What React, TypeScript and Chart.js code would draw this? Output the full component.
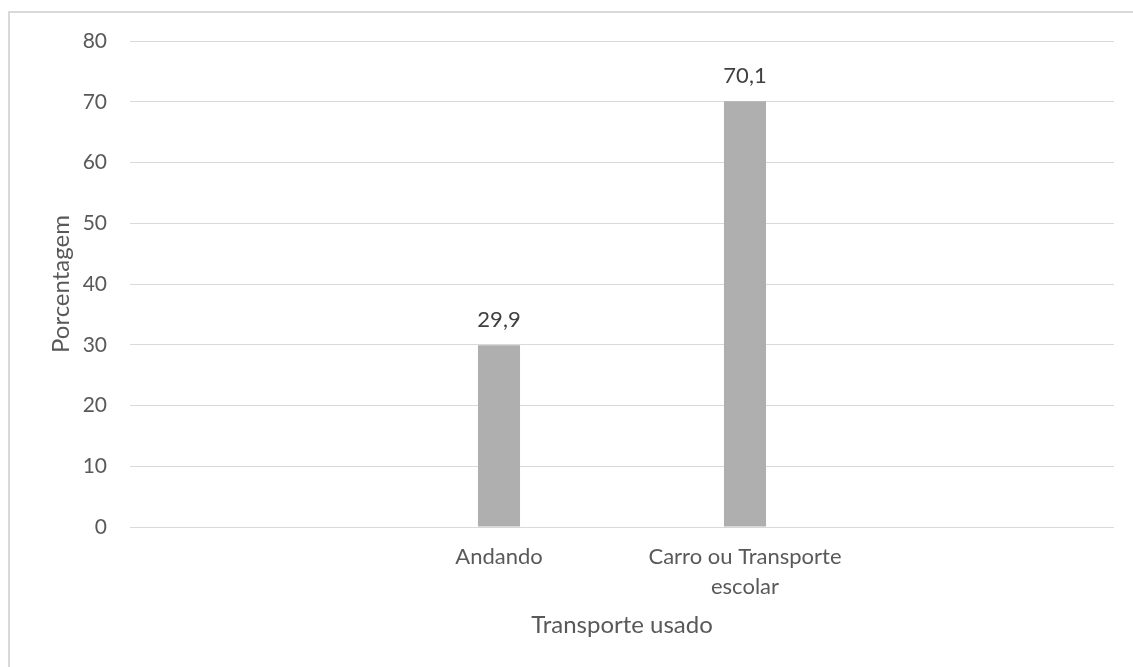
import React, { useEffect, useRef } from "react";
import { Chart, registerables } from "chart.js";

Chart.register(...registerables);

const categories: (string | string[])[] = ["", "Andando", ["Carro ou Transporte", "escolar"], ""];
const values: (number | null)[] = [null, 29.9, 70.1, null];
const yTicks = { min: 0, max: 80, step: 10 };
const xTitle = "Transporte usado";
const yTitle = "Porcentagem";

const FONT = "Lato, 'Open Sans', sans-serif";

const valueLabels = {
  id: "valueLabels",
  afterDatasetsDraw(chart: any) {
    const ctx = chart.ctx;
    const meta = chart.getDatasetMeta(0);
    ctx.save();
    ctx.font = `22px ${FONT}`;
    ctx.fillStyle = "#404040";
    ctx.textAlign = "center";
    ctx.textBaseline = "middle";
    meta.data.forEach((el: any, i: number) => {
      const v = values[i];
      if (v == null) return;
      ctx.fillText(String(v).replace(".", ","), el.x, el.y - 25);
    });
    ctx.restore();
  },
};

export default function App() {
  const ref = useRef<HTMLCanvasElement | null>(null);
  useEffect(() => {
    if (!ref.current) return;
    const chart = new Chart(ref.current, {
      type: "bar",
      data: {
        labels: categories,
        datasets: [
          {
            data: values,
            backgroundColor: "#afafaf",
            borderWidth: 0,
            barPercentage: 0.171,
            categoryPercentage: 1,
          },
        ],
      },
      options: {
        animation: false,
        responsive: false,
        layout: { padding: { left: 43, right: 19, top: 41, bottom: 23 } },
        plugins: {
          legend: { display: false },
          tooltip: { enabled: false },
        },
        scales: {
          x: {
            grid: { display: false, drawTicks: false },
            border: { display: false },
            ticks: {
              color: "#595959",
              padding: 15,
              font: { family: FONT, size: 22, lineHeight: 1.36 },
              maxRotation: 0,
              autoSkip: false,
            },
            title: {
              display: true,
              text: xTitle,
              color: "#595959",
              font: { family: FONT, size: 24 },
            },
            afterFit: (s: any) => {
              s.height = 117;
            },
          },
          y: {
            min: yTicks.min,
            max: yTicks.max,
            grid: { color: "#d9d9d9", lineWidth: 1, drawTicks: false },
            border: { display: false },
            ticks: {
              stepSize: yTicks.step,
              color: "#595959",
              padding: 23,
              font: { family: FONT, size: 21 },
            },
            title: {
              display: true,
              text: yTitle,
              color: "#595959",
              font: { family: FONT, size: 24 },
            },
            afterFit: (s: any) => {
              s.width = 87;
            },
          },
        },
      },
      plugins: [valueLabels],
    });
    return () => chart.destroy();
  }, []);

  return (
    <div style={{ position: "fixed", left: 0, top: 0, width: 1133, height: 667, overflow: "hidden", background: "#fff" }}>
      <div
        style={{
          position: "absolute",
          left: 8,
          top: 11,
          width: 2000,
          height: 2000,
          borderLeft: "2px solid #d9d9d9",
          borderTop: "2px solid #d9d9d9",
        }}
      />
      <canvas ref={ref} width={1133} height={667} style={{ position: "absolute", left: 0, top: 0 }} />
    </div>
  );
}
